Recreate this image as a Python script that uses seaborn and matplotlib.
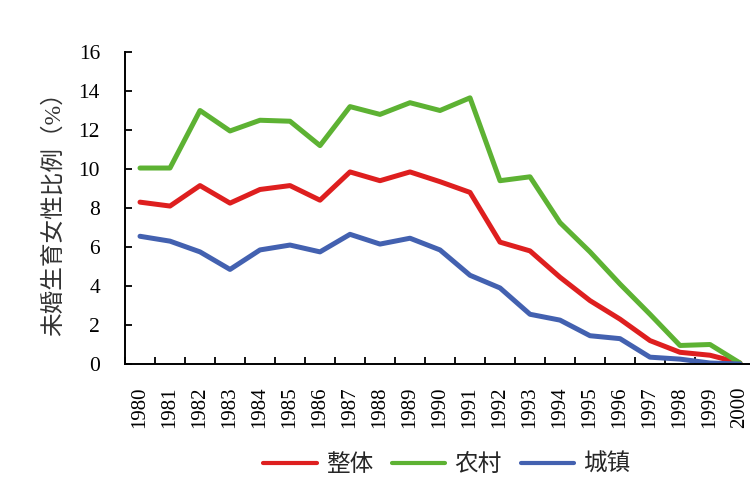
import matplotlib
matplotlib.use("Agg")
import matplotlib.pyplot as plt
import seaborn as sns
import pandas as pd
import numpy as np
from matplotlib.lines import Line2D

years = list(range(1980, 2001))
overall = [8.3, 8.1, 9.15, 8.25, 8.95, 9.15, 8.4, 9.85, 9.4, 9.85, 9.35, 8.8,
           6.25, 5.8, 4.45, 3.25, 2.3, 1.2, 0.6, 0.45, 0.05]
rural = [10.05, 10.05, 13.0, 11.95, 12.5, 12.45, 11.2, 13.2, 12.8, 13.4, 13.0, 13.65,
         9.4, 9.6, 7.25, 5.75, 4.1, 2.55, 0.95, 1.0, 0.05]
urban = [6.55, 6.3, 5.75, 4.85, 5.85, 6.1, 5.75, 6.65, 6.15, 6.45, 5.85, 4.55,
         3.9, 2.55, 2.25, 1.45, 1.3, 0.35, 0.25, 0.05, 0.0]
series_names = ["整体", "农村", "城镇"]
colors = ["#DE1F1F", "#5DB233", "#4361B0"]
ylabel = "未婚生育女性比例（%）"

sns.set_theme(style="white")
plt.rcParams['font.family'] = ['Liberation Serif', 'Noto Sans CJK SC', 'DejaVu Sans']

df = pd.DataFrame({
    "year": years * 3,
    "value": overall + rural + urban,
    "series": [series_names[0]] * len(years) + [series_names[1]] * len(years) + [series_names[2]] * len(years),
})

fig = plt.figure(figsize=(7.5, 5), dpi=100)
ax = fig.add_axes([125 / 750, 136 / 500, 630 / 750, 312 / 500])

sns.lineplot(data=df, x="year", y="value", hue="series", hue_order=series_names,
             palette=colors, linewidth=3.6, ax=ax, legend=False)

ax.set_xlim(years[0] - 0.5, years[-1] + 0.5)
ax.set_ylim(0, 16)
ax.set_yticks(np.arange(0, 17, 2))
ax.set_xticks(years)
ax.set_xticklabels([str(y) for y in years], rotation=90, fontsize=15)
ax.set_xticks(np.arange(years[0] - 0.5, years[-1] + 1.0, 1.0), minor=True)
ax.tick_params(axis='x', which='major', length=0, pad=16, labelsize=15, colors='black')
ax.tick_params(axis='x', which='minor', direction='in', length=5, width=1.3, color='black', bottom=True)
ax.tick_params(axis='y', which='major', direction='in', length=5, width=1.3, pad=18,
               labelsize=15.5, colors='black', left=True)

for s in ["top", "right"]:
    ax.spines[s].set_visible(False)
for s in ["left", "bottom"]:
    ax.spines[s].set_color("black")
    ax.spines[s].set_linewidth(1.4)

ax.set_xlabel("")
ax.set_ylabel(ylabel, fontsize=17, labelpad=10, color='#333333')

handles = [Line2D([0], [0], color=c, lw=3) for c in colors]
fig.legend(handles, series_names, loc='center', bbox_to_anchor=(447 / 750, 1 - 465 / 500),
           ncol=3, frameon=False, fontsize=17, handlelength=2.25, handletextpad=0.4,
           columnspacing=0.8)

fig.savefig("out.png", dpi=100)
